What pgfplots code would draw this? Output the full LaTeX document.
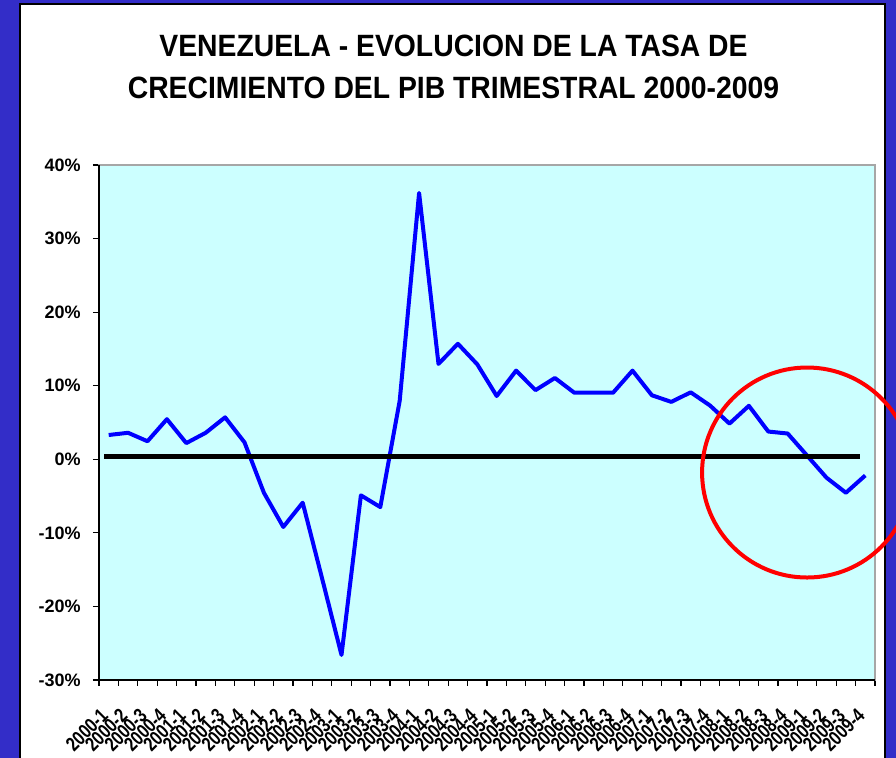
\documentclass[border=0pt]{standalone}
\usepackage{fontspec}
\setmainfont{Liberation Sans}
\newfontfamily\titlefont{Liberation Sans}[FakeStretch=0.92]
\newfontfamily\ticknarrow{Liberation Sans}[FakeStretch=0.8]
\usepackage{pgfplots}
\pgfplotsset{compat=1.18}
\definecolor{frameblue}{RGB}{51,45,200}
\definecolor{plotbg}{RGB}{204,255,255}
\begin{document}
\begin{tikzpicture}
\path[use as bounding box] (0,0) rectangle (448pt,379pt);
\fill[frameblue] (0,0) rectangle (448pt,379pt);
\fill[white] (10pt,-5pt) rectangle (442.5pt,377pt);
\draw[black, line width=0.8pt] (10pt,-5pt) -- (10pt,377pt) -- (442.5pt,377pt) -- (442.5pt,-5pt);
\node[anchor=base, inner sep=0pt] at (226.75pt,350.5pt) {\titlefont\bfseries\fontsize{15.4}{18}\selectfont VENEZUELA - EVOLUCION DE LA TASA DE};
\node[anchor=base, inner sep=0pt] at (226.75pt,329.5pt) {\titlefont\bfseries\fontsize{15.4}{18}\selectfont CRECIMIENTO DEL PIB TRIMESTRAL 2000-2009};
\begin{axis}[
  at={(49.5pt,39pt)}, anchor=south west,
  scale only axis, width=388pt, height=257.5pt,
  xmin=-0.5, xmax=39.5, ymin=-30, ymax=40,
  clip=false,
  axis background/.style={fill=plotbg},
  axis line style={draw=gray!70, line width=0.6pt},
  tick align=outside, major tick length=3pt,
  xtick pos=bottom, ytick pos=left,
  tick style={black, line width=0.6pt},
  ytick={-30,-20,-10,0,10,20,30,40},
  yticklabels={-30\%,-20\%,-10\%,0\%,10\%,20\%,30\%,40\%},
  yticklabel style={font=\bfseries\fontsize{9}{10}\selectfont, anchor=east, inner sep=0pt, xshift=-6pt},
  xtick={-0.5,0.5,...,39.5},
  x tick label as interval,
  xticklabels={2000-1,2000-2,2000-3,2000-4,2001-1,2001-2,2001-3,2001-4,2002-1,2002-2,2002-3,2002-4,2003-1,2003-2,2003-3,2003-4,2004-1,2004-2,2004-3,2004-4,2005-1,2005-2,2005-3,2005-4,2006-1,2006-2,2006-3,2006-4,2007-1,2007-2,2007-3,2007-4,2008-1,2008-2,2008-3,2008-4,2009-1,2009-2,2009-3,2009-4},
  xticklabel style={font=\ticknarrow\bfseries\fontsize{10}{11}\selectfont, inner sep=0pt, yshift=-13pt, xshift=-2pt, rotate=45, anchor=east},
]
\addplot[blue, line width=2pt, line join=round, mark=none] coordinates {
(0,3.3) (1,3.6) (2,2.45) (3,5.45) (4,2.2) (5,3.6) (6,5.7) (7,2.3)
(8,-4.55) (9,-9.2) (10,-5.9) (11,-16.2) (12,-26.6) (13,-4.9) (14,-6.5) (15,7.95)
(16,36.2) (17,12.96) (18,15.7) (19,12.9) (20,8.6) (21,12.05) (22,9.4) (23,11.05)
(24,9.05) (25,9.05) (26,9.05) (27,12.05) (28,8.7) (29,7.8) (30,9.1) (31,7.3)
(32,4.85) (33,7.27) (34,3.77) (35,3.5) (36,0.5) (37,-2.5) (38,-4.55) (39,-2.2)
};
\addplot[black, line width=2.3pt, mark=none] coordinates {(-0.24,0.4) (38.72,0.4)};
\draw[black, line width=0.8pt] (rel axis cs:0,1) -- (rel axis cs:0,0) -- (rel axis cs:1,0);
\draw[red, line width=2pt] (axis cs:36,-1.8) circle[radius=52.5pt];
\end{axis}
\end{tikzpicture}
\end{document}
